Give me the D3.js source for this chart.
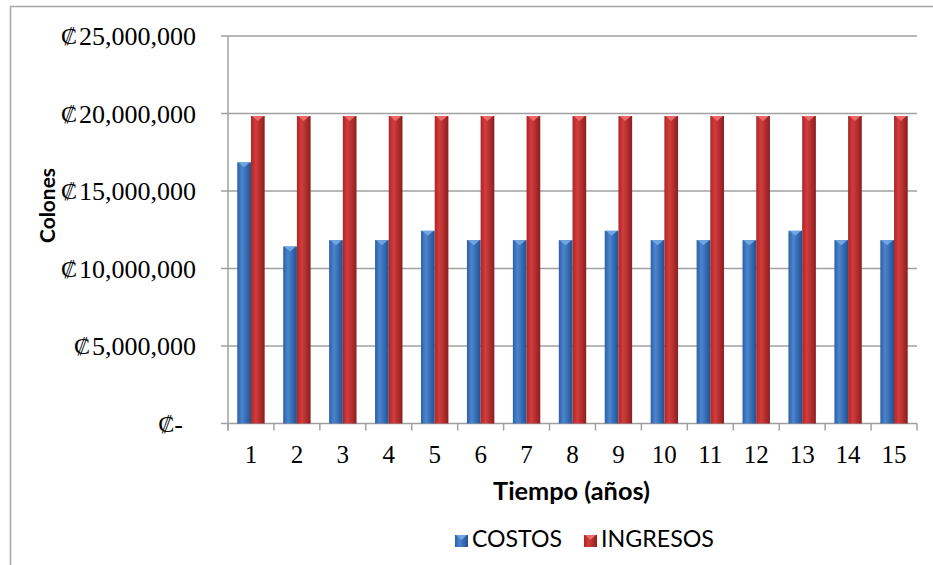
<!DOCTYPE html>
<html><head><meta charset="utf-8">
<script src="https://cdn.jsdelivr.net/npm/d3@7"></script>
<style>body{margin:0;background:#fff}svg{display:block}</style>
</head><body>
<svg id="c" width="933" height="565"></svg>
<script>
const categories = ["1","2","3","4","5","6","7","8","9","10","11","12","13","14","15"];
const costos = [16850000,11420000,11830000,11830000,12430000,11830000,11830000,11830000,12430000,11830000,11830000,11830000,12430000,11830000,11830000];
const ingresos = [19840000,19840000,19840000,19840000,19840000,19840000,19840000,19840000,19840000,19840000,19840000,19840000,19840000,19840000,19840000];
const seriesNames = ["COSTOS","INGRESOS"];
const yTicks = [0,5000000,10000000,15000000,20000000,25000000];
const currencySymbol = "\u20A1";

const svg = d3.select("#c");
const m={l:228,r:917,t:36,b:423.5};
const SERIF="'Liberation Serif','Times New Roman',serif";
const SANS="Lato,'Open Sans',sans-serif";
const GRID="#a0a0a0";

function fit(t, w){
  const base=+t.attr("font-size");
  const l=t.node().getComputedTextLength();
  if(l>0) t.attr("font-size", base*w/l);
  return t;
}

// outer frame
svg.append("rect").attr("x",10.5).attr("y",6.5).attr("width",940).attr("height",600)
  .attr("fill","none").attr("stroke","#a6a6a6").attr("stroke-width",1.5);

const defs=svg.append("defs");
function grad(id,c1,c2,c3){
  const g=defs.append("linearGradient").attr("id",id).attr("x1","0").attr("x2","1").attr("y1","0").attr("y2","0");
  g.append("stop").attr("offset","0").attr("stop-color",c1);
  g.append("stop").attr("offset","0.35").attr("stop-color",c2);
  g.append("stop").attr("offset","1").attr("stop-color",c3);
}
grad("gb","#2d5fa3","#4a85cf","#22508f");
grad("gr","#a82828","#d53b3b","#8a1f1f");

const x=d3.scaleBand().domain(categories).range([m.l,m.r]).paddingInner(0).paddingOuter(0);
const y=d3.scaleLinear().domain([0,25000000]).range([m.b,m.t]);

// gridlines
svg.append("g").selectAll("line").data(yTicks).join("line")
  .attr("x1",m.l-7).attr("x2",m.r).attr("y1",d=>y(d)).attr("y2",d=>y(d))
  .attr("stroke",GRID).attr("stroke-width",1.5);
svg.append("line").attr("x1",m.l).attr("x2",m.l).attr("y1",m.t).attr("y2",m.b+7).attr("stroke",GRID).attr("stroke-width",1.5);

// y-axis labels (number part right-aligned, currency symbol placed left of it)
const fmt=d3.format(",");
const yl=svg.append("g");
yTicks.forEach(v=>{
  const numStr = v===0 ? "-" : fmt(v);
  const right = v===0 ? 183 : 196;
  const t=yl.append("text").attr("x",right).attr("y",y(v)).attr("dy","0.35em")
    .attr("text-anchor","end").attr("font-family",SERIF).attr("font-size",26).attr("fill","#000").text(numStr);
  const w=t.node().getComputedTextLength();
  yl.append("text").attr("x",right-w-(v===0?0:2)).attr("y",y(v)).attr("dy","0.35em")
    .attr("text-anchor","end").attr("font-family","'DejaVu Serif',serif").attr("font-size",24).attr("fill","#000").text(currencySymbol);
});

// x ticks
const xTickPos=categories.map(c=>x(c)).concat([m.r]);
svg.append("g").selectAll("line").data(xTickPos).join("line")
  .attr("x1",d=>d).attr("x2",d=>d).attr("y1",m.b).attr("y2",m.b+7)
  .attr("stroke",GRID).attr("stroke-width",1.5);
const xAxis=d3.axisBottom(x).tickSize(0).tickPadding(0);
const xa=svg.append("g").attr("transform",`translate(0,${m.b})`).call(xAxis);
xa.select(".domain").remove();
xa.selectAll("text").attr("font-family",SERIF).attr("font-size",25).attr("fill","#000").attr("dy",0).attr("y",39.5);

// bars
const bw=13.7;
const data=[costos,ingresos];
const fills=["url(#gb)","url(#gr)"];
const caps=["#76abe8","#ee7070"];
data.forEach((vals,si)=>{
  const g=svg.append("g");
  const xs=(i)=>x(categories[i])+x.bandwidth()/2-bw+si*bw;
  g.selectAll("rect").data(vals).join("rect")
    .attr("x",(d,i)=>xs(i)).attr("y",d=>y(d)).attr("width",bw).attr("height",d=>m.b-y(d))
    .attr("fill",fills[si]);
  g.selectAll("path").data(vals).join("path")
    .attr("d",(d,i)=>{const x0=xs(i),y0=y(d);return `M${x0+1},${y0}L${x0+bw-1},${y0}L${x0+bw/2},${y0+5}Z`;})
    .attr("fill",caps[si]).attr("opacity",0.9);
});

// axis titles
const ct=svg.append("text").attr("transform","translate(55,205.5) rotate(-90)").attr("text-anchor","middle")
  .attr("font-family",SANS).attr("font-weight","bold").attr("font-size",20).attr("fill","#000").text("Colones");
fit(ct,75);
const tt=svg.append("text").attr("x",571.5).attr("y",500).attr("text-anchor","middle")
  .attr("font-family",SANS).attr("font-weight","bold").attr("font-size",20).attr("fill","#000").text("Tiempo (años)");
fit(tt,157);

// legend
const lg=svg.append("g");
const lx=[455,584];
const lw=[90,113];
seriesNames.forEach((n,i)=>{
  lg.append("rect").attr("x",lx[i]).attr("y",535).attr("width",13).attr("height",12).attr("fill",fills[i]);
  lg.append("path").attr("d",`M${lx[i]+1},535L${lx[i]+12},535L${lx[i]+6.5},540Z`).attr("fill",caps[i]).attr("opacity",0.9);
  const t=lg.append("text").attr("x",lx[i]+17).attr("y",547).attr("font-family",SANS).attr("font-size",20).attr("fill","#000").text(n);
  fit(t,lw[i]);
});
</script>
</body></html>
